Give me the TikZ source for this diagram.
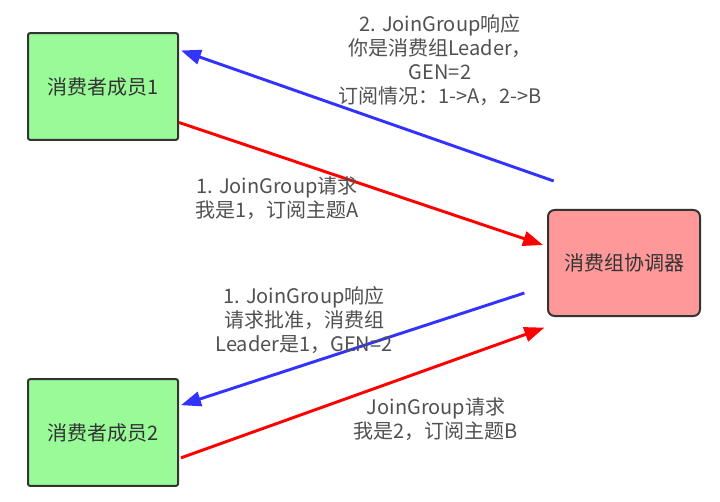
\documentclass[tikz,border=0pt]{standalone}
\usepackage{fontspec}
\setmainfont{Noto Sans CJK SC}
\definecolor{memgreen}{RGB}{152, 251, 152}
\definecolor{coordred}{RGB}{255, 153, 153}
\definecolor{reqred}{RGB}{255, 0, 0}
\definecolor{respblue}{RGB}{51, 51, 255}
\definecolor{labelgray}{RGB}{80, 80, 80}
\definecolor{edgegray}{RGB}{51, 51, 51}
\usetikzlibrary{arrows.meta, positioning}

\begin{document}
\begin{tikzpicture}[
  x=0.75pt, y=-0.75pt,
  mbox/.style={draw=edgegray, line width=1.5pt, rounded corners=1.5pt, minimum width=112.5pt, minimum height=80pt, fill=memgreen, font=\fontsize{15}{18}\selectfont, text=edgegray},
  cbox/.style={draw=edgegray, line width=1.5pt, rounded corners=5pt, minimum width=114pt, minimum height=79.5pt, fill=coordred, font=\fontsize{15}{18}\selectfont, text=edgegray},
  msg/.style={align=center, font=\fontsize{15}{18}\selectfont, text=labelgray, inner sep=0pt},
  req/.style={draw=reqred, line width=2.2pt, -{Triangle[length=15pt, width=11pt]}},
  resp/.style={draw=respblue, line width=2.2pt, -{Triangle[length=15pt, width=11pt]}}
]
  \useasboundingbox (0,0) rectangle (720,502);
  \node[mbox] (m1) at (103, 86.5) {消费者成员1};
  \node[mbox] (m2) at (103, 432.5) {消费者成员2};
  \node[cbox] (co) at (624, 263) {消费组协调器};

  \draw[req] ([yshift=-27pt]m1.east) -- ([xshift=-3pt, yshift=13.5pt]co.west);
  \draw[resp] ([xshift=5pt, yshift=21pt]co.north west) -- ([xshift=1.5pt, yshift=27pt]m1.east);
  \draw[resp] ([xshift=-17pt, yshift=-22.5pt]co.west) -- ([xshift=1.5pt, yshift=20.5pt]m2.east);
  \draw[req] ([xshift=1.5pt, yshift=-19pt]m2.east) -- ([xshift=-2pt, yshift=-8pt]co.south west);

  \node[msg] (l2) at (440, 60) {2. JoinGroup响应\\你是消费组Leader，\\GEN=2\\订阅情况：1->A，2->B};
  \node[msg] (l1) at (277, 198) {1. JoinGroup请求\\我是1，订阅主题A};
  \node[msg] (l3) at (304, 320) {1. JoinGroup响应\\请求批准，消费组\\Leader是1，GEN=2};
  \node[msg] (l4) at (436, 419) {JoinGroup请求\\我是2，订阅主题B};
\end{tikzpicture}
\end{document}
